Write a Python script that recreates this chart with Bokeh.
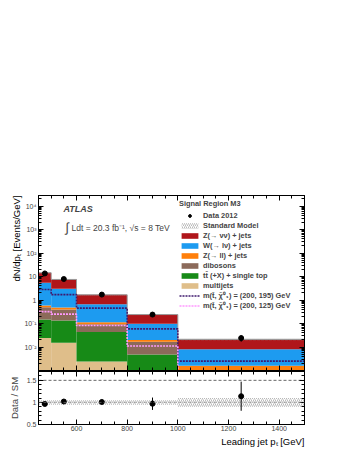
import math
import numpy as np
from bokeh.plotting import figure
from bokeh.layouts import column
from bokeh.models import (Range1d, FixedTicker, LogAxis, LinearAxis, Legend, LegendItem,
                          Label, Span, Title, CustomJSTickFormatter)
from bokeh.embed import file_html
from bokeh.resources import INLINE

# ---------------- data ----------------
bin_edges = [450, 500, 600, 800, 1000, 1500]
data_2012 = [13.5, 7.8, 1.7, 0.24, 0.024]
data_rel_err = [0.04, 0.037, 0.054, 0.14, 0.30]
z_nunu = [9.0, 4.5, 1.0, 0.143, 0.0129]
w_lnu = [4.82, 2.52, 0.546, 0.077, 0.0065]
z_ll = [0.09, 0.09, 0.021, 0.0033, 0.0008]
dibosons = [0.342, 0.256, 0.05, 0.0119, 0.0005]
ttbar = [0.124, 0.119, 0.0406, 0.0045, 0.0003]
multijets = [0.024, 0.015, 0.0024, 0.0003, 0.0]
sm_rel_err = [0.05, 0.05, 0.05, 0.05, 0.10]
signal_200_195 = [2.8, 1.7, 0.45, 0.059, 0.0025]
signal_200_125 = [0.32, 0.25, 0.082, 0.011, 0.0006]
ratio = [0.965, 1.02, 1.01, 0.97, 1.14]
ratio_err = [0.035, 0.037, 0.054, 0.14, 0.33]

y_tick_values = [0.01, 0.1, 1, 10, 100, 1000, 10000]
y_tick_labels = ["10\u207b\u00b2", "10\u207b\u00b9", "1", "10", "10\u00b2", "10\u00b3", "10\u2074"]
x_tick_values = [600, 800, 1000, 1200, 1400]
r_tick_values = [0.5, 1, 1.5]
r_tick_labels = ["0.5", "1", "1.5"]

labels = {
    "data": "Data 2012",
    "sm": "Standard Model",
    "znunu": "Z(\u2192 \u03bd\u03bd) + jets",
    "wlnu": "W(\u2192 l\u03bd) + jets",
    "zll": "Z(\u2192 ll) + jets",
    "dib": "dibosons",
    "tt": "tt\u0304 (+X) + single top",
    "mj": "multijets",
    "s1": "m(t\u0303, \u03c7\u0303\u2070\u2081) = (200, 195) GeV",
    "s2": "m(t\u0303, \u03c7\u0303\u2070\u2081) = (200, 125) GeV",
}
y_title = "dN/dp\u209c [Events/GeV]"
x_title = "Leading jet p\u209c [GeV]"
r_title = "Data / SM"

# ---------------- styles ----------------
FONT = "Liberation Sans"
C_RED = "#b0161a"
C_BLUE = "#1d9bf0"
C_ORANGE = "#ff7f0a"
C_BROWN = "#8c6a5a"
C_GREEN = "#178a17"
C_TAN = "#dfbe8a"
C_SIG1 = "#3f1a6e"
C_SIG2 = "#ff99ff"
HATCH = "#8a8a8a"

left = bin_edges[:-1]
right = bin_edges[1:]
centers = [(a + b) / 2 for a, b in zip(left, right)]

FW = 266
FH = 175
blank = CustomJSTickFormatter(code="return ''")


def style_axis(ax, show_labels=True, major=5, minor=3):
    ax.major_tick_in = major
    ax.major_tick_out = 0
    ax.minor_tick_in = minor
    ax.minor_tick_out = 0
    ax.axis_line_color = "black"
    ax.major_tick_line_color = "black"
    ax.minor_tick_line_color = "black"
    ax.major_label_text_font = FONT
    ax.major_label_text_font_size = "7px"
    ax.major_label_standoff = 2
    ax.axis_label_text_font = FONT
    ax.axis_label_text_font_style = "normal"
    ax.axis_label_text_font_size = "9.5px"
    if not show_labels:
        ax.formatter = blank
        ax.major_label_text_font_size = "1px"
        ax.major_label_standoff = 0


def axis_title(text):
    return Title(text=text, align="right", standoff=0, offset=0,
                 text_font=FONT, text_font_size="9.5px", text_font_style="normal",
                 text_color="black")


# ---------------- main panel ----------------
p = figure(x_range=Range1d(450, 1500), y_range=Range1d(1e-3, 2.8e4), y_axis_type="log",
           frame_width=FW, frame_height=FH, min_border_left=38, min_border_right=10,
           min_border_top=195, min_border_bottom=1,
           output_backend="svg", toolbar_location=None)
p.grid.visible = False
p.outline_line_color = "black"
p.background_fill_color = "white"
p.border_fill_color = "white"

y_major = FixedTicker(ticks=y_tick_values,
                      minor_ticks=[m * 10.0 ** e for e in range(-3, 5) for m in range(1, 10)])
x_major = FixedTicker(ticks=x_tick_values, minor_ticks=list(range(450, 1501, 50)))

p.yaxis.ticker = y_major
p.yaxis.major_label_overrides = dict(zip(y_tick_values, y_tick_labels))
p.xaxis.ticker = x_major
style_axis(p.yaxis[0], True, 5, 3)
style_axis(p.xaxis[0], False, 5, 3)

ax_r = LogAxis(ticker=y_major)
style_axis(ax_r, False, 5, 3)
p.add_layout(ax_r, "right")
ax_t = LinearAxis(ticker=x_major)
style_axis(ax_t, False, 5, 3)
p.add_layout(ax_t, "above")
p.add_layout(axis_title(y_title), "left")

# stacked backgrounds
floor = 1e-6
layers = [("mj", multijets, C_TAN), ("tt", ttbar, C_GREEN), ("dib", dibosons, C_BROWN),
          ("zll", z_ll, C_ORANGE), ("wlnu", w_lnu, C_BLUE), ("znunu", z_nunu, C_RED)]
bottom = [floor] * len(left)
stack_r = {}
for key, vals, col in layers:
    top = [b + v for b, v in zip(bottom, vals)]
    stack_r[key] = p.quad(left=left, right=right, bottom=bottom, top=top,
                          fill_color=col, line_color=None)
    bottom = top
total = bottom

# SM uncertainty band
band = p.quad(left=left, right=right,
              bottom=[t * (1 - e) for t, e in zip(total, sm_rel_err)],
              top=[t * (1 + e) for t, e in zip(total, sm_rel_err)],
              fill_alpha=0, line_color=None, hatch_pattern="/", hatch_color=HATCH,
              hatch_scale=4, hatch_weight=0.6)
p.step(x=bin_edges, y=total + [total[-1]], mode="after", line_color="#9a9a9a", line_width=1)

# signals
s1 = p.step(x=bin_edges, y=signal_200_195 + [signal_200_195[-1]], mode="after",
            line_color=C_SIG1, line_width=1.6, line_dash="2 1")
s2 = p.step(x=bin_edges, y=signal_200_125 + [signal_200_125[-1]], mode="after",
            line_color=C_SIG2, line_width=1.6, line_dash="2 1")

# data
p.segment(x0=centers, x1=centers,
          y0=[d * (1 - e) for d, e in zip(data_2012, data_rel_err)],
          y1=[d * (1 + e) for d, e in zip(data_2012, data_rel_err)],
          line_color="black", line_width=1)
pts = p.scatter(x=centers, y=data_2012, size=5, marker="circle", color="black")

items = [LegendItem(label=labels["data"], renderers=[pts]),
         LegendItem(label=labels["sm"], renderers=[band]),
         LegendItem(label=labels["znunu"], renderers=[stack_r["znunu"]]),
         LegendItem(label=labels["wlnu"], renderers=[stack_r["wlnu"]]),
         LegendItem(label=labels["zll"], renderers=[stack_r["zll"]]),
         LegendItem(label=labels["dib"], renderers=[stack_r["dib"]]),
         LegendItem(label=labels["tt"], renderers=[stack_r["tt"]]),
         LegendItem(label=labels["mj"], renderers=[stack_r["mj"]]),
         LegendItem(label=labels["s1"], renderers=[s1]),
         LegendItem(label=labels["s2"], renderers=[s2])]
legend = Legend(items=items, location=(141, 60), title="Signal Region M3",
                title_text_font=FONT, title_text_font_size="7.4px", title_text_font_style="bold",
                title_standoff=2,
                label_text_font=FONT, label_text_font_size="7.4px", label_text_font_style="bold",
                glyph_width=21, glyph_height=7, label_height=10, label_standoff=3,
                spacing=0, padding=0, margin=0, border_line_color=None,
                background_fill_alpha=0)
p.add_layout(legend)

p.add_layout(Label(x=25, y=162, x_units="screen", y_units="screen", text="ATLAS",
                   text_font=FONT, text_font_size="9px", text_font_style="bold italic",
                   text_baseline="middle"))
p.add_layout(Label(x=27, y=143, x_units="screen", y_units="screen", text="\u222b",
                   text_font=FONT, text_font_size="13px", text_baseline="middle"))
p.add_layout(Label(x=33, y=143, x_units="screen", y_units="screen",
                   text="Ldt = 20.3 fb\u207b\u00b9, \u221as = 8 TeV",
                   text_font=FONT, text_font_size="8.5px", text_baseline="middle"))

# ---------------- ratio panel ----------------
r = figure(x_range=p.x_range, y_range=Range1d(0.5, 1.7),
           frame_width=FW, frame_height=53, min_border_left=38, min_border_right=10,
           min_border_top=0, min_border_bottom=24,
           output_backend="svg", toolbar_location=None)
r.grid.visible = False
r.outline_line_color = "black"
r.background_fill_color = "white"
r.border_fill_color = "white"

r_major = FixedTicker(ticks=r_tick_values, minor_ticks=[round(0.5 + 0.1 * i, 2) for i in range(13)])
r.yaxis.ticker = r_major
r.yaxis.major_label_overrides = dict(zip(r_tick_values, r_tick_labels))
r.xaxis.ticker = x_major
style_axis(r.yaxis[0], True, 5, 3)
style_axis(r.xaxis[0], True, 5, 3)
r.yaxis.axis_label = r_title
r.yaxis.axis_label_standoff = 4
r.xaxis.major_label_standoff = 1
rax_r = LinearAxis(ticker=r_major)
style_axis(rax_r, False, 5, 3)
r.add_layout(rax_r, "right")
rax_t = LinearAxis(ticker=x_major)
style_axis(rax_t, False, 5, 3)
r.add_layout(rax_t, "above")
r.add_layout(axis_title(x_title), "below")

r.quad(left=left, right=right, bottom=[1 - e for e in sm_rel_err], top=[1 + e for e in sm_rel_err],
       fill_alpha=0, line_color=None, hatch_pattern="/", hatch_color=HATCH,
       hatch_scale=4, hatch_weight=0.6)
r.add_layout(Span(location=1.5, dimension="width", line_color="black", line_width=0.6,
                  line_dash="3 2"))
r.add_layout(Span(location=1.0, dimension="width", line_color="#888888", line_width=0.6,
                  line_dash="3 2"))
r.segment(x0=centers, x1=centers, y0=[v - e for v, e in zip(ratio, ratio_err)],
          y1=[v + e for v, e in zip(ratio, ratio_err)], line_color="black", line_width=1)
r.scatter(x=centers, y=ratio, size=5, marker="circle", color="black")

layout = column(p, r, spacing=0)
open("out.html", "w").write(file_html(layout, INLINE))
